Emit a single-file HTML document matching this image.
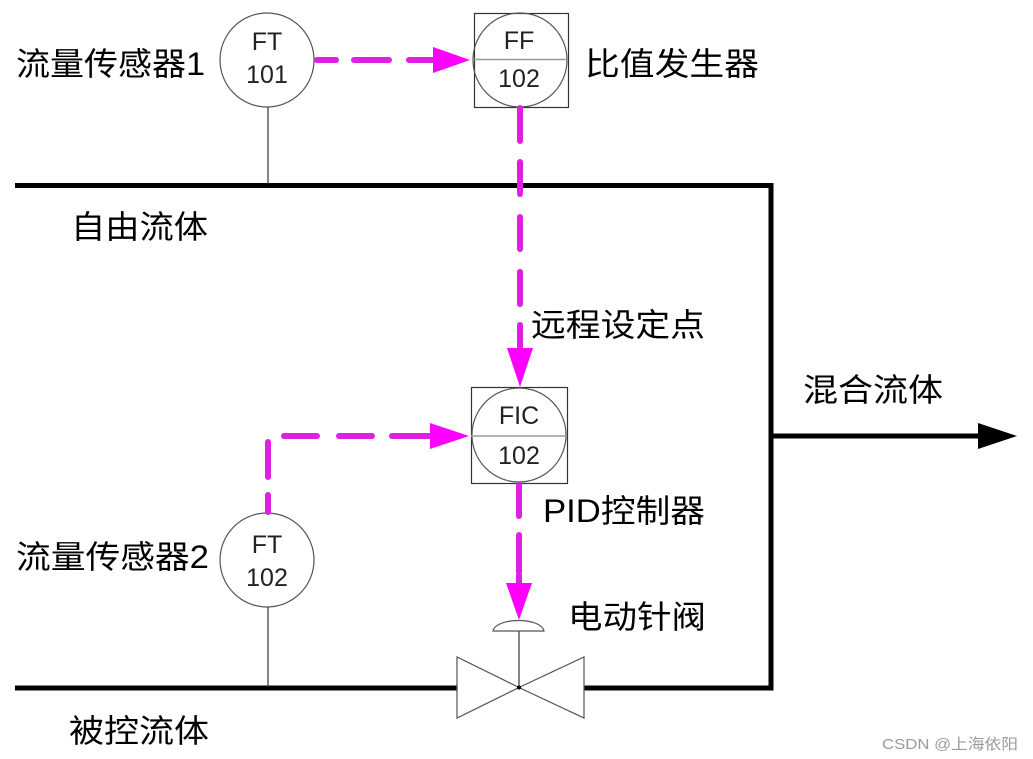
<!DOCTYPE html>
<html><head><meta charset="utf-8"><style>
html,body{margin:0;padding:0;background:#fff;}
svg{display:block;}
.cjk{font-family:"Liberation Sans","Noto Sans CJK SC","WenQuanYi Zen Hei",sans-serif;font-size:32px;fill:#000;}
.tag{font-family:"Liberation Sans",Arial,sans-serif;font-size:25px;fill:#222;text-anchor:middle;}
</style></head><body>
<svg width="1033" height="759" viewBox="0 0 1033 759" xmlns="http://www.w3.org/2000/svg">
<rect width="1033" height="759" fill="#fff"/>
<!-- pipes -->
<g stroke="#000" stroke-width="5" fill="none">
<line x1="15" y1="185.5" x2="773.5" y2="185.5"/>
<line x1="771" y1="183" x2="771" y2="690.5"/>
<line x1="15" y1="688" x2="457" y2="688"/>
<line x1="584" y1="688" x2="773.5" y2="688"/>
<line x1="771" y1="436" x2="982" y2="436"/>
</g>
<polygon points="978,423 1017,436 978,449" fill="#000"/>
<!-- sensor stems -->
<g stroke="#333" stroke-width="1.2">
<line x1="268" y1="106" x2="268" y2="184"/>
<line x1="268" y1="607" x2="268" y2="687"/>
<line x1="519" y1="631" x2="519" y2="688"/>
</g>
<!-- FT101 -->
<circle cx="267" cy="60" r="47" fill="#fff" stroke="#555" stroke-width="1.2"/>
<text class="tag" x="267" y="50">FT</text>
<text class="tag" x="267" y="83">101</text>
<!-- FF102 -->
<rect x="474.5" y="13.5" width="94" height="94" fill="#fff" stroke="#333" stroke-width="1.2"/>
<circle cx="520" cy="60" r="47" fill="none" stroke="#555" stroke-width="1.2"/>
<line x1="474" y1="59.5" x2="568" y2="59.5" stroke="#999" stroke-width="1.5"/>
<text class="tag" x="519" y="49">FF</text>
<text class="tag" x="519" y="87">102</text>
<!-- FIC102 -->
<rect x="471.5" y="387.5" width="96" height="96" fill="#fff" stroke="#333" stroke-width="1.2"/>
<circle cx="519" cy="435" r="47" fill="none" stroke="#555" stroke-width="1.2"/>
<line x1="471" y1="436" x2="567" y2="436" stroke="#999" stroke-width="1.5"/>
<text class="tag" x="519" y="424">FIC</text>
<text class="tag" x="519" y="464">102</text>
<!-- FT102 -->
<circle cx="267" cy="560" r="47" fill="#fff" stroke="#555" stroke-width="1.2"/>
<text class="tag" x="267" y="553">FT</text>
<text class="tag" x="267" y="586">102</text>
<!-- valve -->
<g fill="#fff" stroke="#555" stroke-width="1.2">
<polygon points="457,657 457,718 519,687.5"/>
<polygon points="584,657 584,718 519,687.5"/>
<path d="M493,631 C496,617 541,617 544,631 Z"/>
</g>
<circle cx="519" cy="687.5" r="2" fill="#000"/>
<!-- magenta dashed signals -->
<g stroke="#e020e0" stroke-width="6" stroke-linecap="round" fill="none">
<line x1="317" y1="60" x2="336" y2="60"/>
<line x1="354" y1="60" x2="389" y2="60"/>
<line x1="409" y1="60" x2="436" y2="60"/>
<line x1="520" y1="108" x2="520" y2="141"/>
<line x1="520" y1="162" x2="520" y2="194"/>
<line x1="520" y1="217" x2="520" y2="249"/>
<line x1="520" y1="272" x2="520" y2="304"/>
<line x1="520" y1="325" x2="520" y2="350"/>
<line x1="284" y1="436" x2="317" y2="436"/>
<line x1="339" y1="436" x2="372" y2="436"/>
<line x1="392" y1="436" x2="432" y2="436"/>
<line x1="268" y1="442" x2="268" y2="477"/>
<line x1="268" y1="495" x2="268" y2="512"/>
<line x1="519" y1="485" x2="519" y2="516"/>
<line x1="519" y1="535" x2="519" y2="572"/>
<line x1="519" y1="575" x2="519" y2="585"/>
</g>
<g fill="#ff00ff">
<polygon points="433,47 470,60 433,73"/>
<polygon points="507,348 533,348 520,387"/>
<polygon points="430,423 469,436 430,449"/>
<polygon points="506,583 532,583 519,620"/>
</g>
<!-- labels -->
<text class="cjk" x="16" y="75" textLength="189" lengthAdjust="spacingAndGlyphs">流量传感器1</text>
<text class="cjk" x="71" y="238" textLength="137" lengthAdjust="spacingAndGlyphs">自由流体</text>
<text class="cjk" x="585" y="75" textLength="174" lengthAdjust="spacingAndGlyphs">比值发生器</text>
<text class="cjk" x="531" y="336" textLength="174" lengthAdjust="spacingAndGlyphs">远程设定点</text>
<text class="cjk" x="543" y="522" textLength="162" lengthAdjust="spacingAndGlyphs">PID控制器</text>
<text class="cjk" x="568" y="628" textLength="138" lengthAdjust="spacingAndGlyphs">电动针阀</text>
<text class="cjk" x="803" y="401" textLength="140" lengthAdjust="spacingAndGlyphs">混合流体</text>
<text class="cjk" x="16" y="568" textLength="193" lengthAdjust="spacingAndGlyphs">流量传感器2</text>
<text class="cjk" x="69" y="742" textLength="140" lengthAdjust="spacingAndGlyphs">被控流体</text>
<text x="882" y="749" font-family="Liberation Sans,'Noto Sans CJK SC',sans-serif" font-size="15" fill="#9a9a9a" textLength="136" lengthAdjust="spacingAndGlyphs">CSDN @上海依阳</text>
</svg>
</body></html>
